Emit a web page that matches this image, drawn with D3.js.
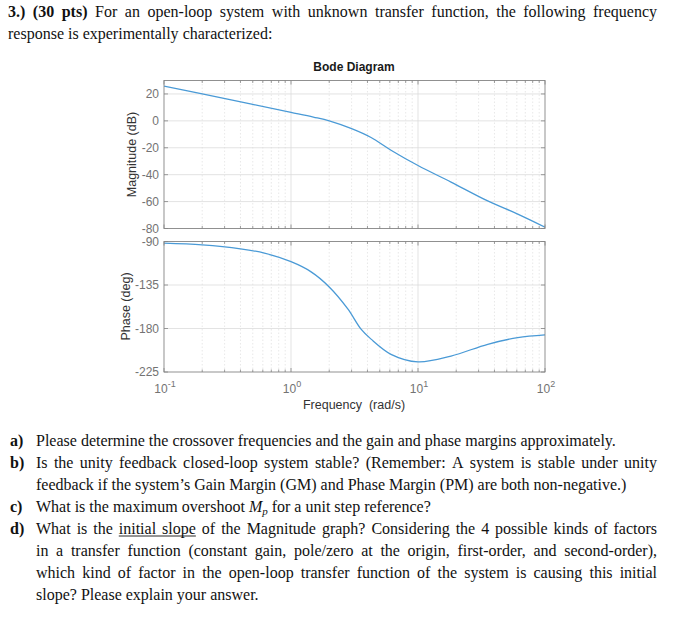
<!DOCTYPE html>
<html>
<head>
<meta charset="utf-8">
<script src="https://cdn.jsdelivr.net/npm/d3@7"></script>
<style>
  body { margin: 0; background: #fff; }
  svg { display: block; }
</style>
</head>
<body>
<svg id="chart" width="683" height="618"></svg>
<script>
'use strict';

// values
const magFreq = [0.1, 0.2, 0.5, 1, 1.5, 2, 3, 4.27, 6.13, 10, 18.2, 35.4, 61, 100];
const magDb   = [25.8, 20, 12.2, 6.3, 2.8, 0, -5.8, -12.4, -21.8, -33.2, -45.5, -59.5, -69.3, -79];

const phaseFreq = [0.1, 0.2, 0.4, 0.617, 1, 1.44, 2, 2.8, 3.56, 4.27, 6.13, 10, 18.2, 35.4, 61, 100];
const phaseDeg  = [-91.7, -93.5, -97.6, -102, -110.9, -121.4, -137, -159.7, -180.6, -191, -206.7, -214.5, -208.5, -196.3, -189.4, -186.5];

const magTicks   = [20, 0, -20, -40, -60, -80];
const phaseTicks = [-90, -135, -180, -225];
const freqTicks  = [0.1, 1, 10, 100];
const freqExp    = ['-1', '0', '1', '2'];

// question text (*word = bold, _word = underlined, M_p = italic M with subscript)
const headerLines = [
  { text: '*3.) *(30 *pts) For an open-loop system with unknown transfer function, the following frequency', justify: true },
  { text: 'response is experimentally characterized:', justify: false }
];
const questionLines = [
  { label: 'a)', text: 'Please determine the crossover frequencies and the gain and phase margins approximately.', justify: false },
  { label: 'b)', text: 'Is the unity feedback closed-loop system stable? (Remember: A system is stable under unity', justify: true },
  { label: '',   text: 'feedback if the system\u2019s Gain Margin (GM) and Phase Margin (PM) are both non-negative.)', justify: false },
  { label: 'c)', text: 'What is the maximum overshoot M_p for a unit step reference?', justify: false },
  { label: 'd)', text: 'What is the _initial _slope of the Magnitude graph? Considering the 4 possible kinds of factors', justify: true },
  { label: '',   text: 'in a transfer function (constant gain, pole/zero at the origin, first-order, and second-order),', justify: true },
  { label: '',   text: 'which kind of factor in the open-loop transfer function of the system is causing this initial', justify: true },
  { label: '',   text: 'slope? Please explain your answer.', justify: false }
];

const svg = d3.select('#chart');
const sans = '"Liberation Sans", Arial, sans-serif';
const serif = '"Liberation Serif", "Times New Roman", serif';
const axisGray = '#858585';
const labelGray = '#737373';

const x = d3.scaleLog().domain([0.1, 100]).range([164, 545]);
const yMag = d3.scaleLinear().domain([-80, 30]).range([228.5, 80.5]);
const yPh = d3.scaleLinear().domain([-225, -90]).range([372, 241.5]);

const allXTicks = x.ticks();
const isMajor = v => Math.abs(Math.log10(v) - Math.round(Math.log10(v))) < 1e-6;

function drawPanel(y, yTicks, freq, vals, id) {
  const [x0, x1] = x.range();
  const [yb, yt] = y.range();
  const g = svg.append('g');

  // minor + major vertical grid
  g.selectAll('.vgrid')
    .data(allXTicks.filter(v => v > 0.1 && v < 100))
    .join('line')
    .attr('x1', d => x(d)).attr('x2', d => x(d))
    .attr('y1', yt).attr('y2', yb)
    .attr('stroke', d => isMajor(d) ? '#dcdcdc' : '#e2e2e2')
    .attr('stroke-width', 0.8)
    .attr('stroke-dasharray', d => isMajor(d) ? null : '1.5,2');

  // horizontal grid
  g.selectAll('.hgrid')
    .data(yTicks.filter(v => y(v) > yt + 1 && y(v) < yb - 1))
    .join('line')
    .attr('x1', x0).attr('x2', x1)
    .attr('y1', d => y(d)).attr('y2', d => y(d))
    .attr('stroke', '#dcdcdc')
    .attr('stroke-width', 0.8);

  // curve
  g.append('clipPath').attr('id', id)
    .append('rect').attr('x', x0).attr('y', yt).attr('width', x1 - x0).attr('height', yb - yt);

  const line = d3.line()
    .x(d => x(d[0]))
    .y(d => y(d[1]))
    .curve(d3.curveCatmullRom.alpha(0.5));

  g.append('path')
    .datum(d3.zip(freq, vals))
    .attr('clip-path', 'url(#' + id + ')')
    .attr('fill', 'none')
    .attr('stroke', '#4a9ad6')
    .attr('stroke-width', 1.3)
    .attr('d', line);

  // box
  g.append('rect')
    .attr('x', x0).attr('y', yt)
    .attr('width', x1 - x0).attr('height', yb - yt)
    .attr('fill', 'none')
    .attr('stroke', axisGray)
    .attr('stroke-width', 0.9);

  // inward ticks, top and bottom
  const tickLen = d => isMajor(d) ? 4 : 2.5;
  g.selectAll('.tb')
    .data(allXTicks)
    .join('line')
    .attr('x1', d => x(d)).attr('x2', d => x(d))
    .attr('y1', yb).attr('y2', d => yb - tickLen(d))
    .attr('stroke', axisGray).attr('stroke-width', 0.8);
  g.selectAll('.tt')
    .data(allXTicks)
    .join('line')
    .attr('x1', d => x(d)).attr('x2', d => x(d))
    .attr('y1', yt).attr('y2', d => yt + tickLen(d))
    .attr('stroke', axisGray).attr('stroke-width', 0.8);

  // inward ticks, left and right
  g.selectAll('.tl')
    .data(yTicks)
    .join('line')
    .attr('x1', x0).attr('x2', x0 + 4)
    .attr('y1', d => y(d)).attr('y2', d => y(d))
    .attr('stroke', axisGray).attr('stroke-width', 0.8);
  g.selectAll('.tr')
    .data(yTicks)
    .join('line')
    .attr('x1', x1).attr('x2', x1 - 4)
    .attr('y1', d => y(d)).attr('y2', d => y(d))
    .attr('stroke', axisGray).attr('stroke-width', 0.8);

  // y tick labels
  g.selectAll('.yl')
    .data(yTicks)
    .join('text')
    .attr('x', 159)
    .attr('y', d => y(d))
    .attr('dy', '0.36em')
    .attr('text-anchor', 'end')
    .attr('font-family', sans)
    .attr('font-size', 12)
    .attr('fill', labelGray)
    .text(d => d);

  return g;
}

drawPanel(yMag, magTicks, magFreq, magDb, 'clipMag');
const ph = drawPanel(yPh, phaseTicks, phaseFreq, phaseDeg, 'clipPh');

// x tick labels 10^n
const xl = ph.selectAll('.xl')
  .data(freqTicks)
  .join('text')
  .attr('x', d => x(d) + 1)
  .attr('y', 392.5)
  .attr('text-anchor', 'middle')
  .attr('font-family', sans)
  .attr('font-size', 12)
  .attr('fill', labelGray);
xl.append('tspan').text('10');
xl.append('tspan')
  .attr('font-size', 9)
  .attr('dy', -5.5)
  .text((d, i) => freqExp[i]);

// titles and axis labels
svg.append('text')
  .attr('x', 354).attr('y', 70.5)
  .attr('text-anchor', 'middle')
  .attr('font-family', sans)
  .attr('font-size', 12)
  .attr('font-weight', 'bold')
  .attr('fill', '#1a1a1a')
  .text('Bode Diagram');

svg.append('text')
  .attr('transform', 'translate(136,154.5) rotate(-90)')
  .attr('text-anchor', 'middle')
  .attr('font-family', sans)
  .attr('font-size', 12.5)
  .attr('fill', '#333')
  .text('Magnitude (dB)');

svg.append('text')
  .attr('transform', 'translate(130,306.5) rotate(-90)')
  .attr('text-anchor', 'middle')
  .attr('font-family', sans)
  .attr('font-size', 12.5)
  .attr('fill', '#333')
  .text('Phase (deg)');

svg.append('text')
  .attr('x', 354).attr('y', 408.5)
  .attr('text-anchor', 'middle')
  .attr('font-family', sans)
  .attr('font-size', 12.5)
  .attr('fill', '#333')
  .style('white-space', 'pre')
  .text('Frequency  (rad/s)');

// question text, word by word so justified lines can be spread out
function drawLine(str, left, right, baseline, justify) {
  const g = svg.append('g');
  const words = str.split(' ').map(w => {
    const tok = { raw: w, bold: false, under: false, sub: false };
    if (w.startsWith('*')) { tok.bold = true; tok.raw = w.slice(1); }
    if (w.startsWith('_')) { tok.under = true; tok.raw = w.slice(1); }
    if (tok.raw === 'M_p') tok.sub = true;
    return tok;
  });

  words.forEach(tok => {
    const t = g.append('text')
      .attr('y', baseline)
      .attr('font-family', serif)
      .attr('font-size', 16)
      .attr('font-weight', tok.bold ? 'bold' : 'normal')
      .attr('fill', '#111');
    if (tok.sub) {
      t.append('tspan').attr('font-style', 'italic').text('M');
      t.append('tspan').attr('font-style', 'italic').attr('font-size', 11).attr('dy', 3).text('p');
    } else {
      t.text(tok.raw);
    }
    tok.el = t;
    tok.w = t.node().getComputedTextLength();
  });

  const total = d3.sum(words, d => d.w);
  const gap = justify && words.length > 1 ? (right - left - total) / (words.length - 1) : 4;

  let cx = left;
  words.forEach(tok => {
    tok.el.attr('x', cx);
    tok.x0 = cx;
    cx += tok.w + gap;
  });

  // underline runs
  const under = words.filter(d => d.under);
  if (under.length) {
    const a = under[0].x0;
    const b = under[under.length - 1].x0 + under[under.length - 1].w;
    g.append('line')
      .attr('x1', a).attr('x2', b)
      .attr('y1', baseline + 2.5).attr('y2', baseline + 2.5)
      .attr('stroke', '#111').attr('stroke-width', 0.9);
  }
}

headerLines.forEach((d, i) => drawLine(d.text, 8, 657, 17 + i * 21.5, d.justify));

questionLines.forEach((d, i) => {
  const base = 445.5 + i * 22;
  if (d.label) {
    svg.append('text')
      .attr('x', 10).attr('y', base)
      .attr('font-family', serif)
      .attr('font-size', 16)
      .attr('font-weight', 'bold')
      .attr('fill', '#111')
      .text(d.label);
  }
  drawLine(d.text, 36, 657, base, d.justify);
});
</script>
</body>
</html>
